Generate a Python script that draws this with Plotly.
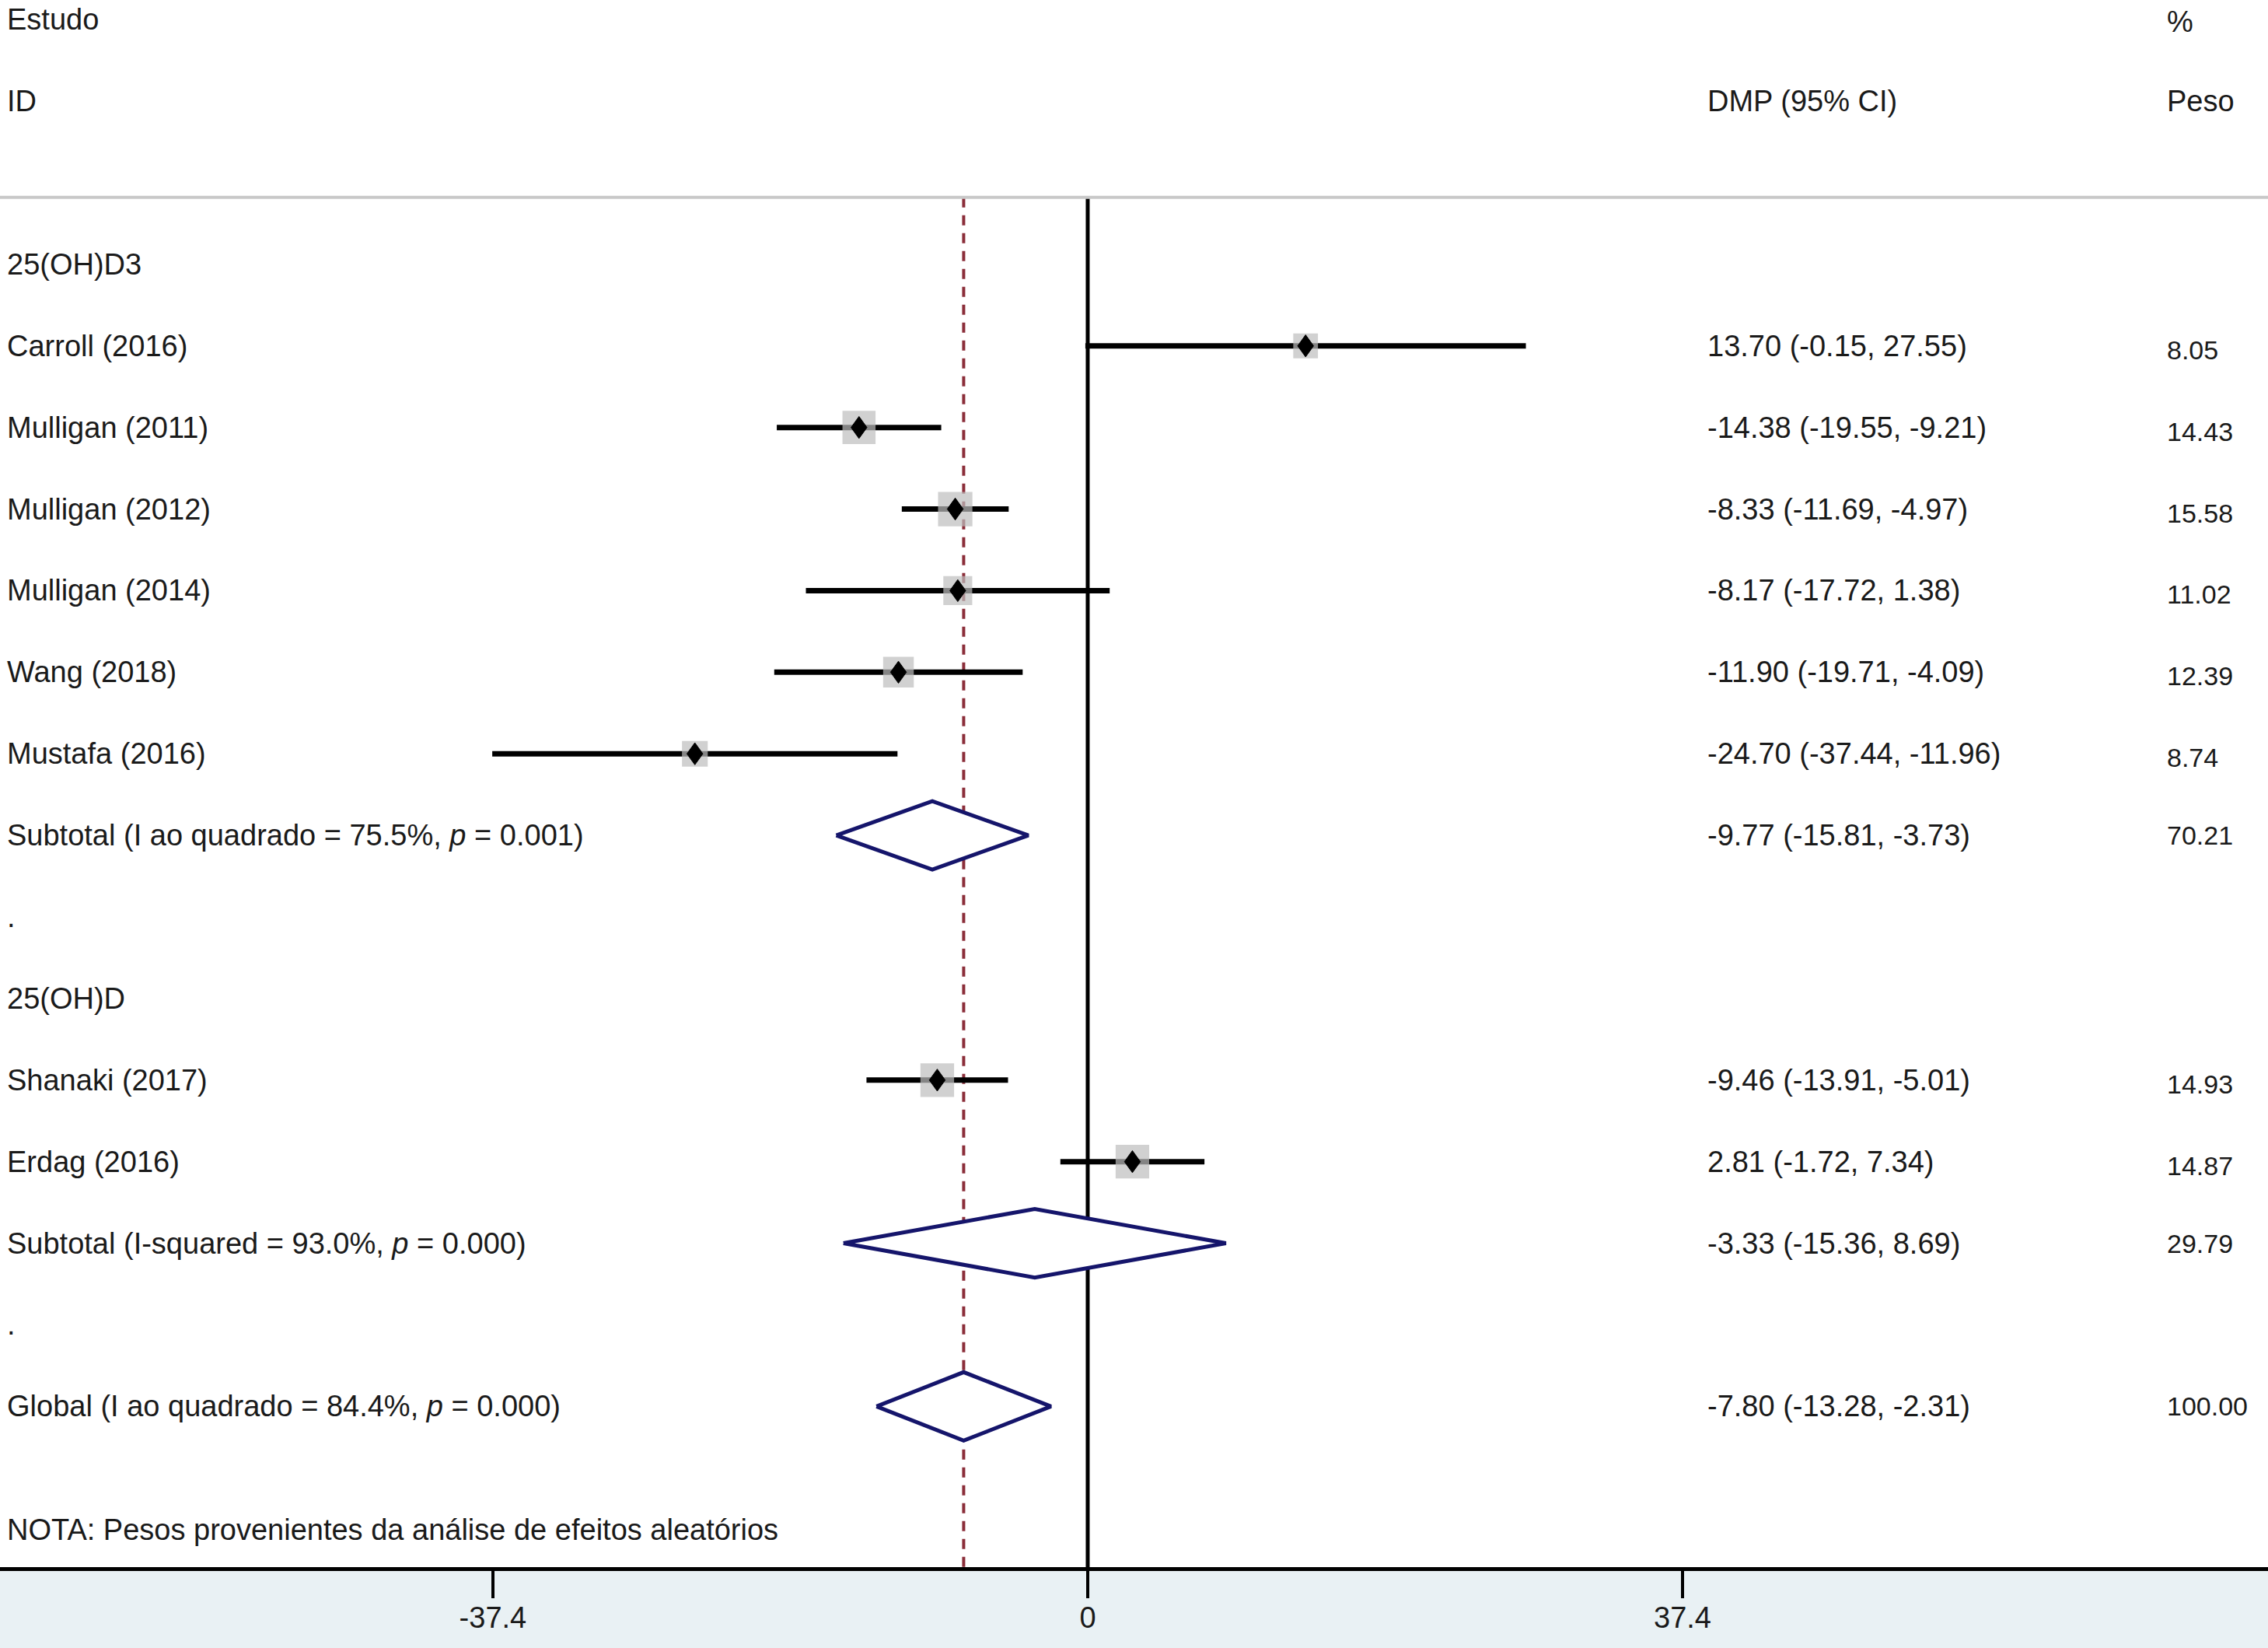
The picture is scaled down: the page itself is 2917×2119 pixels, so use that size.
import numpy as np
import plotly.graph_objects as go

# study level results (mean difference, 95% CI, % weight)
study_names = ["Carroll (2016)", "Mulligan (2011)", "Mulligan (2012)", "Mulligan (2014)",
               "Wang (2018)", "Mustafa (2016)", "Shanaki (2017)", "Erdag (2016)"]
study_rows = [1, 2, 3, 4, 5, 6, 10, 11]
study_est = [13.70, -14.38, -8.33, -8.17, -11.90, -24.70, -9.46, 2.81]
study_lo = [-0.15, -19.55, -11.69, -17.72, -19.71, -37.44, -13.91, -1.72]
study_hi = [27.55, -9.21, -4.97, 1.38, -4.09, -11.96, -5.01, 7.34]
study_w = [8.05, 14.43, 15.58, 11.02, 12.39, 8.74, 14.93, 14.87]

# pooled results
pooled_names = ["Subtotal (I ao quadrado = 75.5%, <i>p</i> = 0.001)",
                "Subtotal (I-squared = 93.0%, <i>p</i> = 0.000)",
                "Global (I ao quadrado = 84.4%, <i>p</i> = 0.000)"]
pooled_rows = [7, 12, 14]
pooled_est = [-9.77, -3.33, -7.80]
pooled_lo = [-15.81, -15.36, -13.28]
pooled_hi = [-3.73, 8.69, -2.31]
pooled_w = [70.21, 29.79, 100.00]

# other label rows
group_names = ["25(OH)D3", ".", "25(OH)D", "."]
group_rows = [0, 8, 9, 13]
note = "NOTA: Pesos provenientes da análise de efeitos aleatórios"
note_row = 15.51

tick_vals = [-37.4, 0, 37.4]
tick_text = ["-37.4", "0", "37.4"]

overall = pooled_est[2]
header_row = -0.82
bottom_row = 15.97
FONT = "Liberation Sans, Arial, sans-serif"
TXT = "#1a1a1a"
NAVY = "#15156b"

fig = go.Figure()

# reference lines
fig.add_trace(go.Scatter(x=[overall, overall], y=[header_row, bottom_row], mode="lines",
                         line=dict(color="#8b2e3a", width=4, dash="13px,10px"), hoverinfo="skip"))
fig.add_trace(go.Scatter(x=[0, 0], y=[header_row, bottom_row], mode="lines",
                         line=dict(color="black", width=5), hoverinfo="skip"))

# CI lines
xs, ys = [], []
for lo, hi, r in zip(study_lo, study_hi, study_rows):
    xs += [lo, hi, None]
    ys += [r, r, None]
fig.add_trace(go.Scatter(x=xs, y=ys, mode="lines", line=dict(color="black", width=7), hoverinfo="skip"))

# weight boxes
fig.add_trace(go.Scatter(x=study_est, y=study_rows, mode="markers",
                         marker=dict(symbol="square", size=[11.2 * np.sqrt(w) for w in study_w],
                                     color="#bdbdbd", line=dict(width=0))))

# point estimate diamonds (about 20 x 28 px)
dw, dh = 0.5, 0.135
xs, ys = [], []
for e, r in zip(study_est, study_rows):
    xs += [e - dw, e, e + dw, e, e - dw, None]
    ys += [r, r - dh, r, r + dh, r, None]
fig.add_trace(go.Scatter(x=xs, y=ys, mode="lines", fill="toself", fillcolor="black",
                         line=dict(color="black", width=1), hoverinfo="skip"))

# pooled diamonds
h = 0.42
for est, lo, hi, r in zip(pooled_est, pooled_lo, pooled_hi, pooled_rows):
    fig.add_trace(go.Scatter(x=[lo, est, hi, est, lo], y=[r, r - h, r, r + h, r], mode="lines",
                             fill="toself", fillcolor="white", line=dict(color=NAVY, width=5)))

# text columns
x_lab, x_ci, x_w = 7 / 2917, 2194 / 2917, 2785 / 2917


def txt(x, y, s, size=38, yshift=0):
    fig.add_annotation(x=x, y=y, xref="paper", yref="y", text=s, showarrow=False,
                       xanchor="left", yanchor="middle", yshift=yshift,
                       font=dict(family=FONT, size=size, color=TXT))


txt(x_lab, -3, "Estudo")
txt(x_lab, -2, "ID")
txt(x_ci, -2, "DMP (95% CI)")
txt(x_w, -2.97, "%")
txt(x_w, -2, "Peso")

for name, r in zip(group_names, group_rows):
    txt(x_lab, r, name)
for name, est, lo, hi, w, r in zip(study_names, study_est, study_lo, study_hi, study_w, study_rows):
    txt(x_lab, r, name)
    txt(x_ci, r, f"{est:.2f} ({lo:.2f}, {hi:.2f})")
    txt(x_w, r, f"{w:.2f}", size=34, yshift=-5)
for name, est, lo, hi, w, r in zip(pooled_names, pooled_est, pooled_lo, pooled_hi, pooled_w, pooled_rows):
    txt(x_lab, r, name)
    txt(x_ci, r, f"{est:.2f} ({lo:.2f}, {hi:.2f})")
    txt(x_w, r, f"{w:.2f}", size=34)
txt(x_lab, note_row, note)

# header separator
fig.add_shape(type="line", xref="paper", yref="y", x0=0, x1=1, y0=header_row, y1=header_row,
              line=dict(color="#c8c8c8", width=4))

fig.update_layout(
    width=2917, height=2119,
    margin=dict(l=0, r=0, t=0, b=104),
    paper_bgcolor="#e9f1f4", plot_bgcolor="white",
    showlegend=False,
    xaxis=dict(range=[-68.39, 74.21], tickvals=tick_vals, ticktext=tick_text,
               showgrid=False, zeroline=False, showline=True, linecolor="black", linewidth=5,
               ticks="outside", ticklen=35, tickwidth=4, tickcolor="black", ticklabelstandoff=-8,
               tickfont=dict(family=FONT, size=38, color=TXT), fixedrange=True),
    yaxis=dict(range=[bottom_row, -3.24], visible=False, fixedrange=True),
)

# no page margin so the figure fills the window
fig.write_html("out.html", config={"displayModeBar": False},
               post_script="document.body.style.margin='0';document.body.style.overflow='hidden';")
